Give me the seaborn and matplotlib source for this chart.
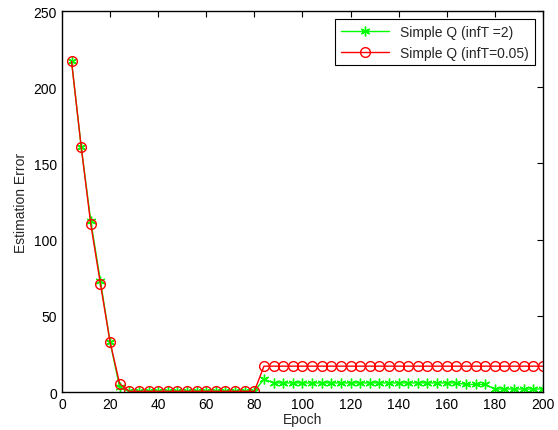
import matplotlib
matplotlib.use('Agg')
import matplotlib.pyplot as plt
import pandas as pd
import seaborn as sns

# Data (epochs every 4 steps)
epochs = list(range(4, 201, 4))
err_inf2 = ([217, 161, 112, 73, 33, 3] + [0.5] * 14 +
            [8.5] + [6] * 20 + [5, 5, 5] + [2] * 6)
err_inf005 = ([217, 161, 110, 71, 33, 5.5] + [0.5] * 14 +
              [17] * 30)

df = pd.DataFrame({'epoch': epochs, 'inf2': err_inf2, 'inf005': err_inf005})

sns.set_style('white')
plt.rcParams['font.family'] = ['Liberation Sans', 'DejaVu Sans']

fig = plt.figure(figsize=(5.58, 4.31), dpi=100)
ax = fig.add_axes([0.111, 0.088, 0.862, 0.884])

sns.lineplot(data=df, x='epoch', y='inf2', ax=ax, color=(0, 1, 0), lw=1,
             marker=(6, 2, 0), markersize=7, markeredgecolor=(0, 1, 0),
             markeredgewidth=1, label='Simple Q (infT =2)')
sns.lineplot(data=df, x='epoch', y='inf005', ax=ax, color='red', lw=1,
             marker='o', markersize=7, markerfacecolor='none',
             markeredgecolor='red', markeredgewidth=1,
             label='Simple Q (infT=0.05)')

ax.set_xlim(0, 200)
ax.set_ylim(0, 250)
ax.set_xticks(range(0, 201, 20))
ax.set_yticks(range(0, 251, 50))
ax.tick_params(direction='in', top=True, right=True, length=4, labelsize=10,
               colors='black')
for s in ax.spines.values():
    s.set_color('black')
    s.set_linewidth(1)
ax.set_xlabel('Epoch', fontsize=10, labelpad=1)
ax.set_ylabel('Estimation Error', fontsize=10)

leg = ax.legend(loc='upper right', fontsize=10, frameon=True, fancybox=False,
                edgecolor='black', framealpha=1, handlelength=3.5,
                borderaxespad=0.6)
leg.get_frame().set_linewidth(0.8)

fig.savefig('out.png', dpi=100)
